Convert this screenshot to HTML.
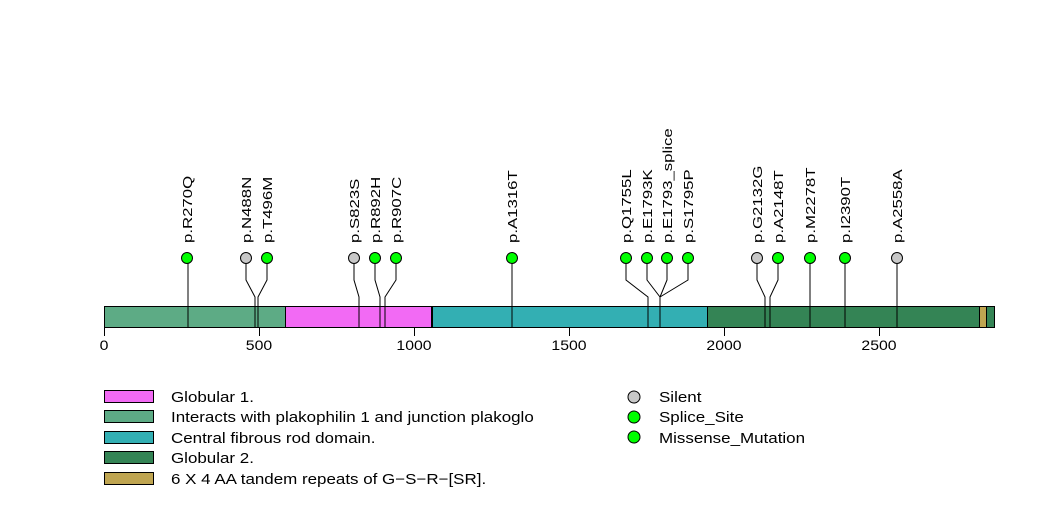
<!DOCTYPE html>
<html><head><style>body{margin:0;background:#fff}svg{display:block}text{font-family:"Liberation Sans",sans-serif}</style></head><body>
<svg width="1047" height="524" xmlns="http://www.w3.org/2000/svg">
<g stroke="#000" stroke-width="1" fill="none">
<path d="M188,258V327"/>
<path d="M246,258V280L255,297V327"/>
<path d="M267,258V280L258,297V327"/>
<path d="M354,258V280L359,297V327"/>
<path d="M375,258V280L380,297V327"/>
<path d="M396,258V280L385,297V327"/>
<path d="M512,258V327"/>
<path d="M626,258V280L648,297V327"/>
<path d="M647,258V280L660,297V327"/>
<path d="M667,258V280L660,297"/>
<path d="M688,258V280L660,297"/>
<path d="M757,258V280L765,297V327"/>
<path d="M778,258V280L770,297V327"/>
<path d="M810,258V327"/>
<path d="M845,258V327"/>
<path d="M897,258V327"/>
</g>
<rect x="104" y="306" width="181" height="21" fill="#5dab85"/>
<rect x="285" y="306" width="147" height="21" fill="#f26af4"/>
<rect x="432" y="306" width="275" height="21" fill="#33afb3"/>
<rect x="707" y="306" width="287" height="21" fill="#348455"/>
<rect x="979" y="306" width="7" height="21" fill="#bfa551"/>
<g stroke="#000" stroke-width="1" fill="none">
<rect x="104.5" y="306.5" width="890" height="21"/>
<path d="M285.5,306V327M431.5,306V327M432.5,306V327M707.5,306V327M979.5,306V327M986.5,306V327"/>
<path d="M188,306V327M255,306V327M258,306V327M359,306V327M380,306V327M385,306V327M512,306V327M648,306V327M660,306V327M765,306V327M770,306V327M810,306V327M845,306V327M897,306V327"/>
<path d="M104.5,327V336M259.5,327V336M414.5,327V336M569.5,327V336M724.5,327V336M879.5,327V336"/>
</g>
<g font-size="14" text-anchor="middle">
<text transform="translate(104,350) scale(1.13,1)">0</text>
<text transform="translate(259,350) scale(1.13,1)">500</text>
<text transform="translate(414,350) scale(1.13,1)">1000</text>
<text transform="translate(569,350) scale(1.13,1)">1500</text>
<text transform="translate(724,350) scale(1.13,1)">2000</text>
<text transform="translate(879,350) scale(1.13,1)">2500</text>
</g>
<g stroke="#000" stroke-width="1">
<circle cx="187" cy="258" r="5.5" fill="#00ff00"/>
<circle cx="246" cy="258" r="5.5" fill="#c8c8c8"/>
<circle cx="267" cy="258" r="5.5" fill="#00ff00"/>
<circle cx="354" cy="258" r="5.5" fill="#c8c8c8"/>
<circle cx="375" cy="258" r="5.5" fill="#00ff00"/>
<circle cx="396" cy="258" r="5.5" fill="#00ff00"/>
<circle cx="512" cy="258" r="5.5" fill="#00ff00"/>
<circle cx="626" cy="258" r="5.5" fill="#00ff00"/>
<circle cx="647" cy="258" r="5.5" fill="#00ff00"/>
<circle cx="667" cy="258" r="5.5" fill="#00ff00"/>
<circle cx="688" cy="258" r="5.5" fill="#00ff00"/>
<circle cx="757" cy="258" r="5.5" fill="#c8c8c8"/>
<circle cx="778" cy="258" r="5.5" fill="#00ff00"/>
<circle cx="810" cy="258" r="5.5" fill="#00ff00"/>
<circle cx="845" cy="258" r="5.5" fill="#00ff00"/>
<circle cx="897" cy="258" r="5.5" fill="#c8c8c8"/>
</g>
<g font-size="13">
<text transform="translate(192,243) rotate(-90) scale(1.29,1)">p.R270Q</text>
<text transform="translate(251,243) rotate(-90) scale(1.29,1)">p.N488N</text>
<text transform="translate(272,243) rotate(-90) scale(1.29,1)">p.T496M</text>
<text transform="translate(359,243) rotate(-90) scale(1.29,1)">p.S823S</text>
<text transform="translate(380,243) rotate(-90) scale(1.29,1)">p.R892H</text>
<text transform="translate(401,243) rotate(-90) scale(1.29,1)">p.R907C</text>
<text transform="translate(517,243) rotate(-90) scale(1.29,1)">p.A1316T</text>
<text transform="translate(631,243) rotate(-90) scale(1.29,1)">p.Q1755L</text>
<text transform="translate(652,243) rotate(-90) scale(1.29,1)">p.E1793K</text>
<text transform="translate(672,243) rotate(-90) scale(1.29,1)">p.E1793_splice</text>
<text transform="translate(693,243) rotate(-90) scale(1.29,1)">p.S1795P</text>
<text transform="translate(762,243) rotate(-90) scale(1.29,1)">p.G2132G</text>
<text transform="translate(783,243) rotate(-90) scale(1.29,1)">p.A2148T</text>
<text transform="translate(815,243) rotate(-90) scale(1.29,1)">p.M2278T</text>
<text transform="translate(850,243) rotate(-90) scale(1.29,1)">p.I2390T</text>
<text transform="translate(902,243) rotate(-90) scale(1.29,1)">p.A2558A</text>
</g>
<g stroke="#000" stroke-width="1">
<rect x="104.5" y="390.5" width="49" height="12" fill="#f26af4"/>
<rect x="104.5" y="410.5" width="49" height="12" fill="#5dab85"/>
<rect x="104.5" y="431.5" width="49" height="12" fill="#33afb3"/>
<rect x="104.5" y="451.5" width="49" height="12" fill="#348455"/>
<rect x="104.5" y="472.5" width="49" height="12" fill="#bfa551"/>
<circle cx="634" cy="397" r="6" fill="#c8c8c8"/>
<circle cx="634" cy="417" r="6" fill="#00ff00"/>
<circle cx="634" cy="437" r="6" fill="#00ff00"/>
</g>
<g font-size="14.5">
<text transform="translate(171,402) scale(1.17,1)">Globular 1.</text>
<text transform="translate(171,422) scale(1.17,1)">Interacts with plakophilin 1 and junction plakoglo</text>
<text transform="translate(171,443) scale(1.17,1)">Central fibrous rod domain.</text>
<text transform="translate(171,463) scale(1.17,1)">Globular 2.</text>
<text transform="translate(171,484) scale(1.17,1)">6 X 4 AA tandem repeats of G−S−R−[SR].</text>
<text transform="translate(659,402) scale(1.17,1)">Silent</text>
<text transform="translate(659,422) scale(1.17,1)">Splice_Site</text>
<text transform="translate(659,443) scale(1.17,1)">Missense_Mutation</text>
</g>
</svg>
</body></html>
